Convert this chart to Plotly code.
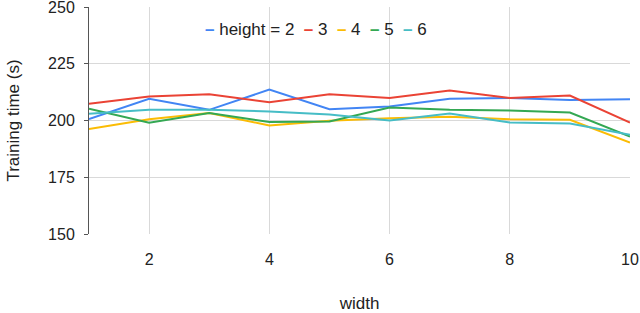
import plotly.graph_objects as go

widths = [1, 2, 3, 4, 5, 6, 7, 8, 9, 10]
heights = ["2", "3", "4", "5", "6"]
h2 = [200.6, 209.6, 204.7, 213.6, 205.0, 206.2, 209.6, 209.9, 209.0, 209.4]
h3 = [207.4, 210.6, 211.6, 208.0, 211.6, 209.9, 213.2, 209.9, 211.0, 199.1]
h4 = [196.2, 200.6, 203.3, 197.8, 199.9, 201.0, 201.6, 200.6, 200.3, 190.3]
h5 = [205.2, 199.0, 203.3, 199.3, 199.6, 205.7, 204.7, 204.4, 203.5, 192.9]
h6 = [203.0, 204.7, 204.7, 204.0, 202.6, 200.0, 203.1, 199.1, 198.7, 193.7]
series = [h2, h3, h4, h5, h6]
colors = ["#4285F4", "#EA4335", "#FBBC04", "#34A853", "#46BDC6"]
yticks = [150, 175, 200, 225, 250]
xticks = [2, 4, 6, 8, 10]

FONT = "Liberation Sans, Arial, sans-serif"

fig = go.Figure()
for h, ys, c in zip(heights, series, colors):
    fig.add_trace(go.Scatter(x=widths, y=ys, mode="lines", name=h,
                             line=dict(color=c, width=2), showlegend=False))

# custom compact legend, like the reference
parts = []
for i, (h, c) in enumerate(zip(heights, colors)):
    label = ("height = " + h) if i == 0 else h
    parts.append('<span style="color:%s"><b>–</b></span>\u00a0%s' % (c, label))
legend_text = "\u00a0\u00a0".join(parts)
fig.add_annotation(text=legend_text, xref="paper", yref="paper", x=0.21, y=0.903,
                   xanchor="left", yanchor="middle", showarrow=False,
                   font=dict(family=FONT, size=17, color="#222222"))

fig.update_layout(
    width=640, height=313,
    margin=dict(l=89, r=10, t=7, b=79),
    paper_bgcolor="white", plot_bgcolor="white",
    font=dict(family=FONT, size=16, color="#222222"),
    xaxis=dict(range=[1, 10], tickvals=xticks, showgrid=True, gridcolor="#d9d9d9",
               gridwidth=1, zeroline=False, showline=False, ticks="",
               ticklabelstandoff=14, automargin=False, ticklabeloverflow="allow",
               title=dict(text="width", standoff=34, font=dict(size=17))),
    yaxis=dict(range=[150, 250], tickvals=yticks, showgrid=True, gridcolor="#d9d9d9",
               gridwidth=1, zeroline=False, showline=True, linecolor="#555555",
               linewidth=1, ticks="outside", ticklen=4, tickcolor="#555555",
               ticklabelstandoff=6, automargin=False, ticklabeloverflow="allow",
               title=dict(text="Training time (s)", standoff=24, font=dict(size=17))),
)

fig.write_html("out.html", config={"displayModeBar": False},
               post_script="document.body.style.margin='0px';document.body.style.overflow='hidden';")
